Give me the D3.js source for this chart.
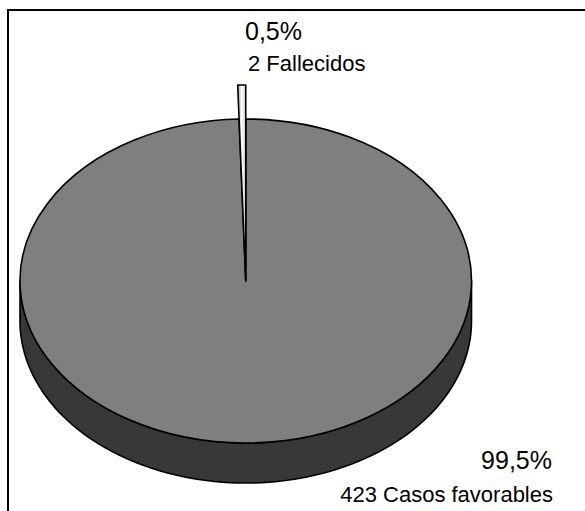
<!DOCTYPE html>
<html>
<head>
<meta charset="utf-8">
<script src="https://cdn.jsdelivr.net/npm/d3@7"></script>
<style>
  html, body { margin: 0; padding: 0; background: #fff; }
  svg { display: block; }
  text { font-family: "Liberation Sans", Arial, sans-serif; fill: #000; }
</style>
</head>
<body>
<svg id="chart" width="585" height="511"></svg>
<script>
// Outcome counts
const categories = ["Casos favorables", "Fallecidos"];
const values = [423, 2];
const explode = [false, true];

const svg = d3.select("#chart");

// Chart frame (runs off the right and bottom edges)
svg.append("rect")
  .attr("x", 8).attr("y", 10)
  .attr("width", 620).attr("height", 560)
  .attr("fill", "none").attr("stroke", "#000").attr("stroke-width", 2);

// Tilted pie geometry
const cx = 245.75, cy = 281, rx = 225.75, ry = 162, depth = 40;
const ky = ry / rx;
const explodeScale = 1.21;

const total = d3.sum(values);
const pieData = d3.pie().sort(null).value(d => d)(values);
const fmt = v => d3.format(".1f")(v).replace(".", ",") + "%";

const defs = svg.append("defs");
const grad = defs.append("linearGradient").attr("id", "sliverGrad")
  .attr("x1", "0").attr("x2", "1").attr("y1", "0").attr("y2", "0");
grad.append("stop").attr("offset", "0%").attr("stop-color", "#9a9a9a");
grad.append("stop").attr("offset", "50%").attr("stop-color", "#ffffff");
grad.append("stop").attr("offset", "100%").attr("stop-color", "#d0d0d0");

// Side wall of the pie (front half only)
const wall = d3.path();
wall.moveTo(cx + rx, cy);
wall.lineTo(cx + rx, cy + depth);
const n = 90;
for (let i = 0; i <= n; i++) {
  const a = Math.PI * i / n;
  wall.lineTo(cx + rx * Math.cos(a), cy + depth + ry * Math.sin(a));
}
wall.lineTo(cx - rx, cy);
for (let i = n; i >= 0; i--) {
  const a = Math.PI * i / n;
  wall.lineTo(cx + rx * Math.cos(a), cy + ry * Math.sin(a));
}
wall.closePath();
svg.append("path").attr("d", wall.toString())
  .attr("fill", "#383838").attr("stroke", "#000").attr("stroke-width", 1.6)
  .attr("stroke-linejoin", "round");

// Top faces, drawn as circular arcs squashed vertically
const face = svg.append("g")
  .attr("transform", `translate(${cx},${cy}) scale(1,${ky})`);

const arcMain = d3.arc().innerRadius(0).outerRadius(rx);
const arcOut = d3.arc().innerRadius(0).outerRadius(rx * explodeScale);

pieData.forEach((p, i) => {
  face.append("path")
    .attr("d", explode[i] ? arcOut(p) : arcMain(p))
    .attr("fill", explode[i] ? "url(#sliverGrad)" : "#7f7f7f")
    .attr("stroke", "#000")
    .attr("stroke-width", 1.6)
    .attr("stroke-linejoin", "round")
    .attr("vector-effect", "non-scaling-stroke");
});

// Labels
const labelPos = [
  { pct: [552, 469], name: [553, 502], anchor: "end" },
  { pct: [245, 40], name: [248, 71], anchor: "start" }
];
pieData.forEach((p, i) => {
  const lp = labelPos[i];
  svg.append("text")
    .attr("x", lp.pct[0]).attr("y", lp.pct[1])
    .attr("text-anchor", lp.anchor)
    .attr("font-size", 25)
    .text(fmt(values[i] / total * 100));
  svg.append("text")
    .attr("x", lp.name[0]).attr("y", lp.name[1])
    .attr("text-anchor", lp.anchor)
    .attr("font-size", 22)
    .text(values[i] + " " + categories[i]);
});
</script>
</body>
</html>
